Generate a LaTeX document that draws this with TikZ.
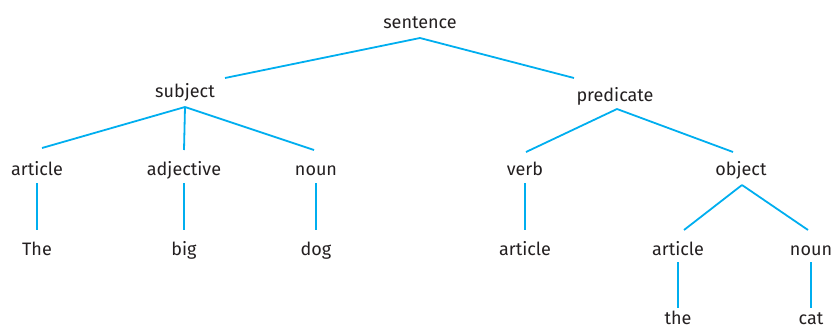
\documentclass[tikz,border=0pt]{standalone}
\usepackage{fontspec}
\setmainfont{Fira Sans}
\definecolor{edgecol}{HTML}{00AEEF}
\definecolor{txtcol}{HTML}{231F20}
\tikzset{
  word/.style={anchor=base, inner sep=0pt, outer sep=0pt, text=txtcol, font=\fontsize{18}{20}\selectfont},
  edge/.style={draw=edgecol, line width=1.8pt}
}
\begin{document}
\begin{tikzpicture}[x=1pt,y=-1pt]
\useasboundingbox (0,0) rectangle (833,330);
% level 0
\node[word] (sentence) at (420,28) {sentence};
% level 1
\node[word] (subject) at (185,97) {subject};
\node[word] (predicate) at (615,101) {predicate};
% level 2
\node[word] (art1) at (37,175) {article};
\node[word] (adj) at (184,175) {adjective};
\node[word] (noun1) at (316,175) {noun};
\node[word] (verb) at (525,175) {verb};
\node[word] (object) at (741,175) {object};
% level 3
\node[word] (The) at (37,255) {The};
\node[word] (big) at (184,255) {big};
\node[word] (dog) at (316,255) {dog};
\node[word] (art2) at (525,255) {article};
\node[word] (art3) at (678,255) {article};
\node[word] (noun3) at (811,255) {noun};
% level 4
\node[word] (the) at (678,324) {the};
\node[word] (cat) at (811,324) {cat};
% edges
\draw[edge] ([shift={(0,10)}]sentence.base) -- ([shift={(40,-19)}]subject.base);
\draw[edge] ([shift={(0,10)}]sentence.base) -- ([shift={(-41,-23)}]predicate.base);
\draw[edge] ([shift={(0,10)}]subject.base) -- ([shift={(5,-27)}]art1.base);
\draw[edge] ([shift={(0,10)}]subject.base) -- ([shift={(0,-25)}]adj.base);
\draw[edge] ([shift={(0,10)}]subject.base) -- ([shift={(-2,-25)}]noun1.base);
\draw[edge] ([shift={(2,8)}]predicate.base) -- ([shift={(1,-23)}]verb.base);
\draw[edge] ([shift={(2,8)}]predicate.base) -- ([shift={(-8,-23)}]object.base);
\draw[edge] ([shift={(0,8)}]art1.base) -- ([shift={(0,-25)}]The.base);
\draw[edge] ([shift={(0,8)}]adj.base) -- ([shift={(0,-25)}]big.base);
\draw[edge] ([shift={(0,8)}]noun1.base) -- ([shift={(0,-25)}]dog.base);
\draw[edge] ([shift={(0,8)}]verb.base) -- ([shift={(0,-25)}]art2.base);
\draw[edge] ([shift={(1,10)}]object.base) -- ([shift={(6,-25)}]art3.base);
\draw[edge] ([shift={(1,10)}]object.base) -- ([shift={(-3,-25)}]noun3.base);
\draw[edge] ([shift={(0,7)}]art3.base) -- ([shift={(0,-16)}]the.base);
\draw[edge] ([shift={(0,7)}]noun3.base) -- ([shift={(0,-16)}]cat.base);
\end{tikzpicture}
\end{document}
